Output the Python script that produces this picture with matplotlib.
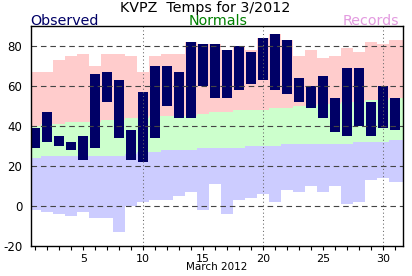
import numpy as np
import matplotlib
matplotlib.use("Agg")
import matplotlib.pyplot as plt

plt.rcParams["axes.unicode_minus"] = False

# ---------- data ----------
days = np.arange(1, 32)
obs_high = [39, 47, 35, 32, 35, 66, 67, 63, 38, 57, 70, 70, 67, 82, 81, 81,
            78, 80, 77, 84, 86, 83, 64, 60, 65, 54, 69, 69, 52, 60, 54]
obs_low = [29, 32, 30, 28, 23, 29, 52, 34, 23, 22, 34, 50, 44, 44, 60, 54,
           54, 58, 61, 63, 58, 56, 52, 49, 44, 37, 35, 40, 35, 39, 38]
rec_high = [67, 67, 73, 75, 76, 70, 76, 76, 75, 67, 75, 76, 76, 82, 81, 81,
            78, 80, 78, 84, 86, 83, 75, 78, 74, 75, 79, 77, 82, 81, 83]
rec_low = [-2, -3, -4, -5, -3, -6, -6, -13, 0, 2, 3, 3, 5, 7, -2, 11,
           -4, 3, 4, 6, 2, 8, 7, 10, 7, 10, 1, 2, 13, 14, 12]
norm_high = [40, 41, 41, 42, 42, 42, 43, 43, 44, 44, 45, 45, 45, 45, 46, 47,
             47, 48, 48, 48, 49, 49, 50, 50, 51, 51, 52, 52, 53, 53, 54]
norm_low = [24, 25, 25, 25, 25, 25, 25, 25, 26, 27, 27, 28, 28, 28, 29, 29,
            29, 29, 30, 30, 30, 31, 31, 31, 31, 31, 31, 32, 32, 32, 33]

PINK = "#FFCCCC"
GREEN = "#CCFFCC"
BLUE = "#CCCCFF"
NAVY = "#000066"

def steps(vals):
    # step outline: each day covers d-0.5 .. d+0.5, outer edges pushed past the limits
    edges = np.append(days - 0.5, days[-1] + 0.5).astype(float)
    edges[0], edges[-1] = 0.0, 32.5
    xs = np.repeat(edges, 2)[1:-1]
    ys = np.repeat(np.asarray(vals, dtype=float), 2)
    return xs, ys

fig = plt.figure(figsize=(4.12, 2.76), dpi=100)
ax = fig.add_axes([0.0745, 0.1087, 0.9029, 0.7971])

xs, rh = steps(rec_high)
_, nh = steps(norm_high)
_, nl = steps(norm_low)
_, rl = steps(rec_low)
ax.fill_between(xs, nh, rh, color=PINK, lw=0, zorder=1)
ax.fill_between(xs, nl, nh, color=GREEN, lw=0, zorder=1)
ax.fill_between(xs, rl, nl, color=BLUE, lw=0, zorder=1)

ax.bar(days, np.array(obs_high) - np.array(obs_low), bottom=obs_low,
       width=0.82, color=NAVY, lw=0, zorder=2)

# grid: dashed horizontals, dotted verticals at 10/20/30
for v in [0, 20, 40, 60, 80]:
    ax.axhline(v, color="#444444", lw=0.8, ls=(0, (5, 3.5)), zorder=3)
for d in [10, 20, 30]:
    ax.axvline(d, color="#666666", lw=0.75, ls=(0, (1, 2.5)), zorder=3)

ax.set_xlim(0.62, 31.62)
ax.set_ylim(-20, 90)
ax.set_xticks([5, 10, 15, 20, 25, 30])
ax.set_xticks(days, minor=True)
ax.set_yticks([-20, 0, 20, 40, 60, 80])
ax.tick_params(axis="x", which="both", direction="out", length=3, width=0.8,
               labelsize=8, pad=2.5)
ax.tick_params(axis="y", length=0, labelsize=8.5, pad=6)
ax.set_xlabel("March 2012", fontsize=7.5, labelpad=-1)
for s in ax.spines.values():
    s.set_linewidth(1.0)
    s.set_zorder(5)

fig.text(0.497, 0.958, "KVPZ  Temps for 3/2012", ha="center", va="baseline",
         fontsize=10.3, color="black")
fig.text(0.0745, 0.910, "Observed", ha="left", va="baseline",
         fontsize=10.3, color=NAVY)
fig.text(0.53, 0.910, "Normals", ha="center", va="baseline",
         fontsize=10.3, color="#008000")
fig.text(0.97, 0.910, "Records", ha="right", va="baseline",
         fontsize=10.3, color="#E39BE0")

fig.savefig("out.png", dpi=100, facecolor="white")
